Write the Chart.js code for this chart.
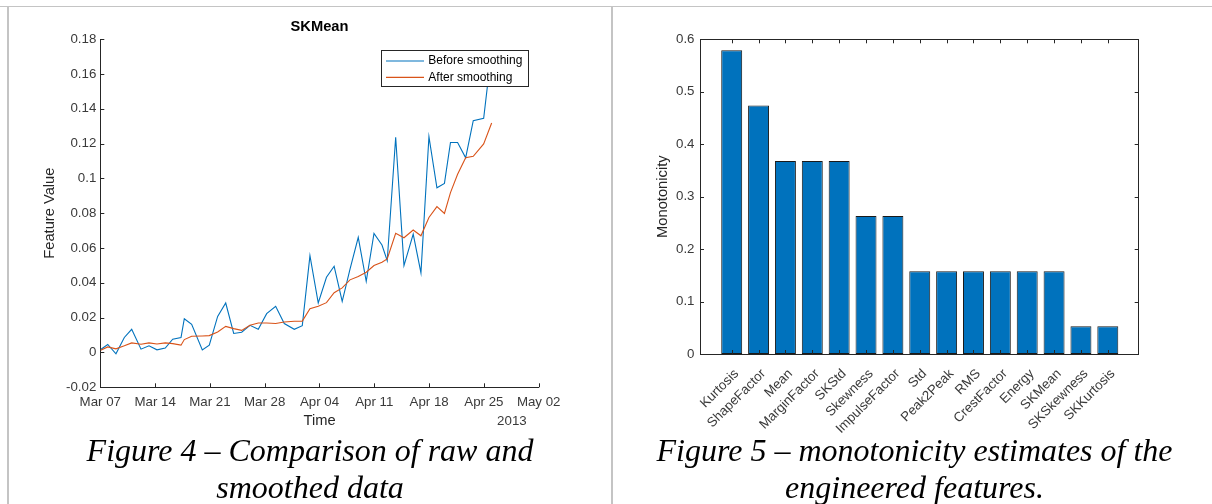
<!DOCTYPE html>
<html>
<head>
<meta charset="utf-8">
<script src="https://cdn.jsdelivr.net/npm/chart.js@4.4.1/dist/chart.umd.min.js"></script>
<style>
  html, body { margin: 0; padding: 0; background: #fff; }
  body { width: 1212px; height: 504px; position: relative; overflow: hidden; }
  .rule-h { position: absolute; left: 0; top: 6px; width: 1212px; height: 1px; background: #c4c4c4; }
  .rule-v { position: absolute; top: 6px; width: 2px; height: 498px; background: #c4c4c4; }
  .panel { position: absolute; top: 0; }
  .caption {
    position: absolute; top: 432px;
    font-family: "Liberation Serif", "Times New Roman", serif;
    font-style: italic; font-size: 32px; line-height: 37px;
    text-align: center; color: #000; white-space: nowrap;
  }
</style>
</head>
<body>
<div class="rule-h"></div>
<div class="rule-v" style="left:7px"></div>
<div class="rule-v" style="left:611px"></div>

<div class="panel" style="left:0"><canvas id="smoothChart" width="606" height="440"></canvas></div>
<div class="panel" style="left:612px"><canvas id="monoChart" width="600" height="440"></canvas></div>

<div class="caption" style="left:9px;width:602px">Figure 4 – Comparison of raw and<br>smoothed data</div>
<div class="caption" style="left:615px;width:599px">Figure 5 – monotonicity estimates of the<br>engineered features.</div>

<script>
// ---- SKMean feature over time (days since Mar 07, 2013) ----
const dayOffsets = [
  0.05, 0.95, 2.00, 3.07, 4.01, 5.20, 6.22, 7.24, 8.30, 9.25,
  10.31, 10.73, 11.67, 13.03, 13.92, 14.99, 16.02, 17.04, 18.06, 19.12,
  20.18, 21.25, 22.40, 23.50, 24.78, 25.80, 26.78, 27.84, 28.89, 29.87,
  30.90, 31.89, 32.95, 33.97, 34.96, 35.98, 36.65, 37.73, 38.79, 39.97,
  40.96, 41.98, 43.00, 43.96, 44.73, 45.64, 46.67, 47.64, 48.97, 49.99
];
const rawSKMean = [
  0.0017, 0.0046, -0.0008, 0.0086, 0.0133, 0.0019, 0.0038, 0.0015, 0.0025, 0.0076,
  0.0086, 0.0194, 0.0162, 0.0015, 0.0042, 0.0207, 0.0284, 0.0109, 0.0116, 0.0156,
  0.0133, 0.0223, 0.0265, 0.0166, 0.0133, 0.0154, 0.0556, 0.0284, 0.0432, 0.0495,
  0.0293, 0.0477, 0.0661, 0.0409, 0.0684, 0.0617, 0.0527, 0.1236, 0.0499, 0.0680,
  0.0457, 0.1240, 0.0946, 0.0971, 0.1206, 0.1206, 0.1118, 0.1331, 0.1345, 0.1737
];
const smoothSKMean = [
  0.0013, 0.0032, 0.0021, 0.0038, 0.0055, 0.0047, 0.0055, 0.0049, 0.0055, 0.0051,
  0.0042, 0.0074, 0.0093, 0.0095, 0.0097, 0.0118, 0.0150, 0.0137, 0.0127, 0.0156,
  0.0169, 0.0169, 0.0166, 0.0175, 0.0179, 0.0180, 0.0251, 0.0265, 0.0286, 0.0343,
  0.0371, 0.0417, 0.0436, 0.0461, 0.0499, 0.0518, 0.0537, 0.0684, 0.0659, 0.0703,
  0.0670, 0.0775, 0.0838, 0.0798, 0.0918, 0.1023, 0.1118, 0.1127, 0.1198, 0.1318
];
const dateTickDays = [0, 7, 14, 21, 28, 35, 42, 49, 56];
const dateTickLabels = ['Mar 07', 'Mar 14', 'Mar 21', 'Mar 28', 'Apr 04', 'Apr 11', 'Apr 18', 'Apr 25', 'May 02'];
const featureTicks = [-0.02, 0, 0.02, 0.04, 0.06, 0.08, 0.1, 0.12, 0.14, 0.16, 0.18];

// ---- monotonicity of each engineered feature ----
const featureNames = [
  'Kurtosis', 'ShapeFactor', 'Mean', 'MarginFactor', 'SKStd', 'Skewness', 'ImpulseFactor',
  'Std', 'Peak2Peak', 'RMS', 'CrestFactor', 'Energy', 'SKMean', 'SKSkewness', 'SKKurtosis'
];
const monotonicity = [
  0.579, 0.474, 0.368, 0.368, 0.368, 0.263, 0.263,
  0.158, 0.158, 0.158, 0.158, 0.158, 0.158, 0.053, 0.053
];
const monoTicks = [0, 0.1, 0.2, 0.3, 0.4, 0.5, 0.6];

const SANS = '"Liberation Sans", Arial, Helvetica, sans-serif';
const AXIS = '#262626';
const TICK_TEXT = '#3a3a3a';
const BLUE = '#0072BD';
const ORANGE = '#D95319';

const fmt = v => String(+Number(v).toFixed(3));

// Short tick marks pointing into the plot; optionally a full box with ticks on all sides.
const inwardTicks = {
  id: 'inwardTicks',
  afterDatasetsDraw(chart, args, o) {
    const { ctx, chartArea: a } = chart;
    const xs = chart.scales.x, ys = chart.scales.y;
    const len = o.length;
    ctx.save();
    ctx.strokeStyle = o.color;
    ctx.lineWidth = 1;
    ctx.beginPath();
    xs.ticks.forEach(t => {
      const px = Math.round(xs.getPixelForValue(t.value)) + 0.5;
      ctx.moveTo(px, a.bottom); ctx.lineTo(px, a.bottom - len);
      if (o.box) { ctx.moveTo(px, a.top); ctx.lineTo(px, a.top + len); }
    });
    ys.ticks.forEach(t => {
      const py = Math.round(ys.getPixelForValue(t.value)) + 0.5;
      ctx.moveTo(a.left, py); ctx.lineTo(a.left + len, py);
      if (o.box) { ctx.moveTo(a.right, py); ctx.lineTo(a.right - len, py); }
    });
    if (o.box) {
      const t = Math.round(a.top) + 0.5, r = Math.round(a.right) - 0.5;
      ctx.moveTo(a.left, t); ctx.lineTo(a.right, t);
      ctx.moveTo(r, a.top); ctx.lineTo(r, a.bottom);
    }
    ctx.stroke();
    ctx.restore();
  }
};

// Boxed legend in the upper-right corner of the plot area.
const boxLegend = {
  id: 'boxLegend',
  afterDraw(chart, args, o) {
    if (!o.display) return;
    const { ctx, chartArea: a } = chart;
    const ds = chart.data.datasets;
    const left = a.right - o.marginRight - o.width;
    const top = a.top + o.marginTop;
    ctx.save();
    ctx.fillStyle = '#fff';
    ctx.fillRect(left, top, o.width, o.height);
    ctx.strokeStyle = o.borderColor;
    ctx.lineWidth = 1;
    ctx.strokeRect(Math.round(left) + 0.5, Math.round(top) + 0.5, Math.round(o.width), Math.round(o.height));
    ctx.font = o.font;
    ctx.textBaseline = 'middle';
    ctx.textAlign = 'left';
    ds.forEach((d, i) => {
      const cy = top + o.firstRow + o.rowHeight * i;
      ctx.strokeStyle = d.borderColor;
      ctx.lineWidth = d.borderWidth;
      ctx.beginPath();
      ctx.moveTo(left + o.lineStart, cy);
      ctx.lineTo(left + o.lineStart + o.lineLength, cy);
      ctx.stroke();
      ctx.fillStyle = o.color;
      ctx.fillText(d.label, left + o.textStart, cy);
    });
    ctx.restore();
  }
};

// Year shown under the right end of the date axis.
const yearLabel = {
  id: 'yearLabel',
  afterDraw(chart, args, o) {
    if (!o.text) return;
    const { ctx, chartArea: a } = chart;
    ctx.save();
    ctx.font = o.font;
    ctx.fillStyle = o.color;
    ctx.textAlign = 'right';
    ctx.textBaseline = 'middle';
    ctx.fillText(o.text, a.right - o.offsetRight, a.bottom + o.offsetY);
    ctx.restore();
  }
};

// ---------- Figure 4: raw vs smoothed SKMean ----------
new Chart(document.getElementById('smoothChart'), {
  type: 'line',
  data: {
    datasets: [
      {
        label: 'Before smoothing',
        data: dayOffsets.map((d, i) => ({ x: d, y: rawSKMean[i] })),
        borderColor: BLUE, borderWidth: 1.1, pointRadius: 0, tension: 0, fill: false, order: 2
      },
      {
        label: 'After smoothing',
        data: dayOffsets.map((d, i) => ({ x: d, y: smoothSKMean[i] })),
        borderColor: ORANGE, borderWidth: 1.1, pointRadius: 0, tension: 0, fill: false, order: 1
      }
    ]
  },
  options: {
    responsive: false,
    animation: false,
    events: [],
    layout: { padding: { left: 0, top: 0, right: 67.3, bottom: 0 } },
    plugins: {
      legend: { display: false },
      tooltip: { enabled: false },
      title: {
        display: true, text: 'SKMean', fullSize: false, color: '#000',
        font: { family: SANS, size: 14.7, weight: 'bold' },
        padding: { top: 17.8, bottom: 3.6 }
      },
      boxLegend: {
        display: true, width: 147, height: 36, marginTop: 11, marginRight: 11,
        firstRow: 11, rowHeight: 16.3, lineStart: 5.3, lineLength: 38, textStart: 47.6,
        font: '12px ' + SANS, color: '#000', borderColor: AXIS
      },
      inwardTicks: { length: 4, color: AXIS, box: false },
      yearLabel: { text: '2013', font: '13.3px ' + SANS, color: TICK_TEXT, offsetRight: 12, offsetY: 34 }
    },
    scales: {
      x: {
        type: 'linear', min: 0, max: 56, offset: false,
        afterBuildTicks: s => { s.ticks = dateTickDays.map(v => ({ value: v })); },
        afterFit: s => { s.height = 52.7; },
        grid: { display: false, drawTicks: false },
        border: { display: true, color: AXIS, width: 1 },
        ticks: {
          autoSkip: false, maxRotation: 0, padding: 6.6, color: TICK_TEXT,
          font: { family: SANS, size: 13.3 },
          callback: (v, i) => dateTickLabels[i]
        },
        title: {
          display: true, text: 'Time', color: AXIS,
          font: { family: SANS, size: 14.7 }, padding: { top: 0, bottom: 10 }
        }
      },
      y: {
        type: 'linear', min: -0.02, max: 0.18,
        afterBuildTicks: s => { s.ticks = featureTicks.map(v => ({ value: v })); },
        afterFit: s => { s.width = 100.3; },
        grid: { display: false, drawTicks: false },
        border: { display: true, color: AXIS, width: 1 },
        ticks: { padding: 4, color: TICK_TEXT, font: { family: SANS, size: 13.3 }, callback: v => fmt(v) },
        title: {
          display: true, text: 'Feature Value', color: AXIS,
          font: { family: SANS, size: 14.7 }, padding: { top: 41.2, bottom: 0 }
        }
      }
    }
  },
  plugins: [inwardTicks, boxLegend, yearLabel]
});

// ---------- Figure 5: monotonicity bar chart ----------
new Chart(document.getElementById('monoChart'), {
  type: 'bar',
  data: {
    datasets: [{
      label: 'Monotonicity',
      data: featureNames.map((n, i) => ({ x: i, y: monotonicity[i] })),
      backgroundColor: BLUE,
      borderColor: '#1a1a1a',
      borderWidth: 1,
      borderSkipped: false,
      barPercentage: 0.78,
      categoryPercentage: 1
    }]
  },
  options: {
    responsive: false,
    animation: false,
    events: [],
    layout: { padding: { left: 0, top: 39.3, right: 73.3, bottom: 0 } },
    plugins: {
      legend: { display: false },
      tooltip: { enabled: false },
      inwardTicks: { length: 4, color: AXIS, box: true }
    },
    scales: {
      x: {
        type: 'linear', min: -1.18, max: 15.15, offset: false,
        afterBuildTicks: s => { s.ticks = featureNames.map((n, i) => ({ value: i })); },
        afterFit: s => { s.height = 86; },
        grid: { display: false, drawTicks: false },
        border: { display: true, color: AXIS, width: 1 },
        ticks: {
          autoSkip: false, minRotation: 45, maxRotation: 45, padding: 12, labelOffset: 5,
          color: TICK_TEXT, font: { family: SANS, size: 13.3 },
          callback: (v, i) => featureNames[i]
        }
      },
      y: {
        type: 'linear', min: 0, max: 0.6,
        afterBuildTicks: s => { s.ticks = monoTicks.map(v => ({ value: v })); },
        afterFit: s => { s.width = 88; },
        grid: { display: false, drawTicks: false },
        border: { display: true, color: AXIS, width: 1 },
        ticks: { padding: 5.5, color: TICK_TEXT, font: { family: SANS, size: 13.3 }, callback: v => fmt(v) },
        title: {
          display: true, text: 'Monotonicity', color: AXIS,
          font: { family: SANS, size: 14.7 }, padding: { top: 42.2, bottom: 0 }
        }
      }
    }
  },
  plugins: [inwardTicks]
});
</script>
</body>
</html>
